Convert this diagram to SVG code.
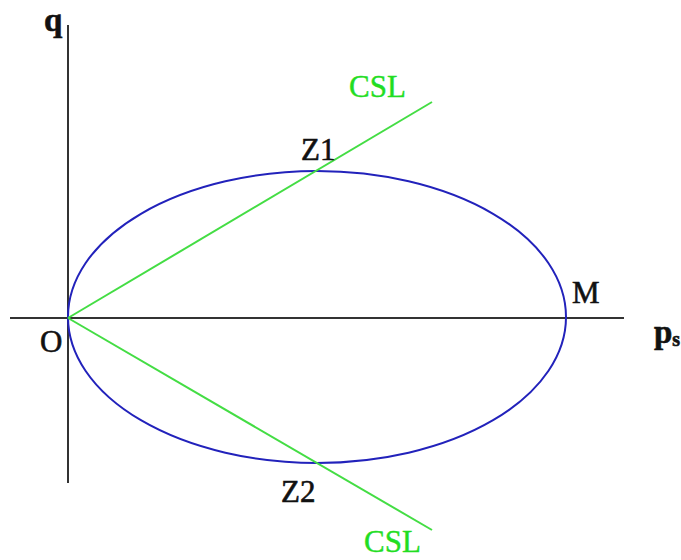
<svg xmlns="http://www.w3.org/2000/svg" width="681" height="560" viewBox="0 0 681 560">
<style>
text{font-family:"Liberation Serif","Times New Roman",serif;font-size:31px}
.k{fill:#111;stroke:#111;stroke-width:0.6}
.g{fill:#22dd22;stroke:#22dd22;stroke-width:0.4}
.b{font-weight:bold}
.big{font-size:33px}
.sub{font-size:20px}
.ax{stroke:#333;stroke-width:2;fill:none}
.csl{stroke:#44dd44;stroke-width:2;fill:none}
</style>
<rect width="681" height="560" fill="#fff"/>
<g id="axes">
<line class="ax" x1="68" y1="25" x2="68" y2="483"/>
<line class="ax" x1="10" y1="318" x2="624" y2="318"/>
</g>
<g id="ellipse">
<ellipse cx="317" cy="317" rx="249" ry="146" fill="none" stroke="#2222bb" stroke-width="2"/>
</g>
<g id="connectors">
<line class="csl" x1="68" y1="318" x2="432" y2="102"/>
<line class="csl" x1="68" y1="318" x2="432" y2="530"/>
</g>
<g id="labels">
<text class="k b big" x="44" y="31">q</text>
<text class="k" x="301" y="160">Z1</text>
<text class="g" x="349" y="97">CSL</text>
<text class="k" x="40" y="352">O</text>
<text class="k" x="572" y="303">M</text>
<text class="k b big" x="654" y="343">p<tspan class="sub" dy="3">s</tspan></text>
<text class="k" x="281" y="502">Z2</text>
<text class="g" x="364" y="552">CSL</text>
</g>
</svg>
